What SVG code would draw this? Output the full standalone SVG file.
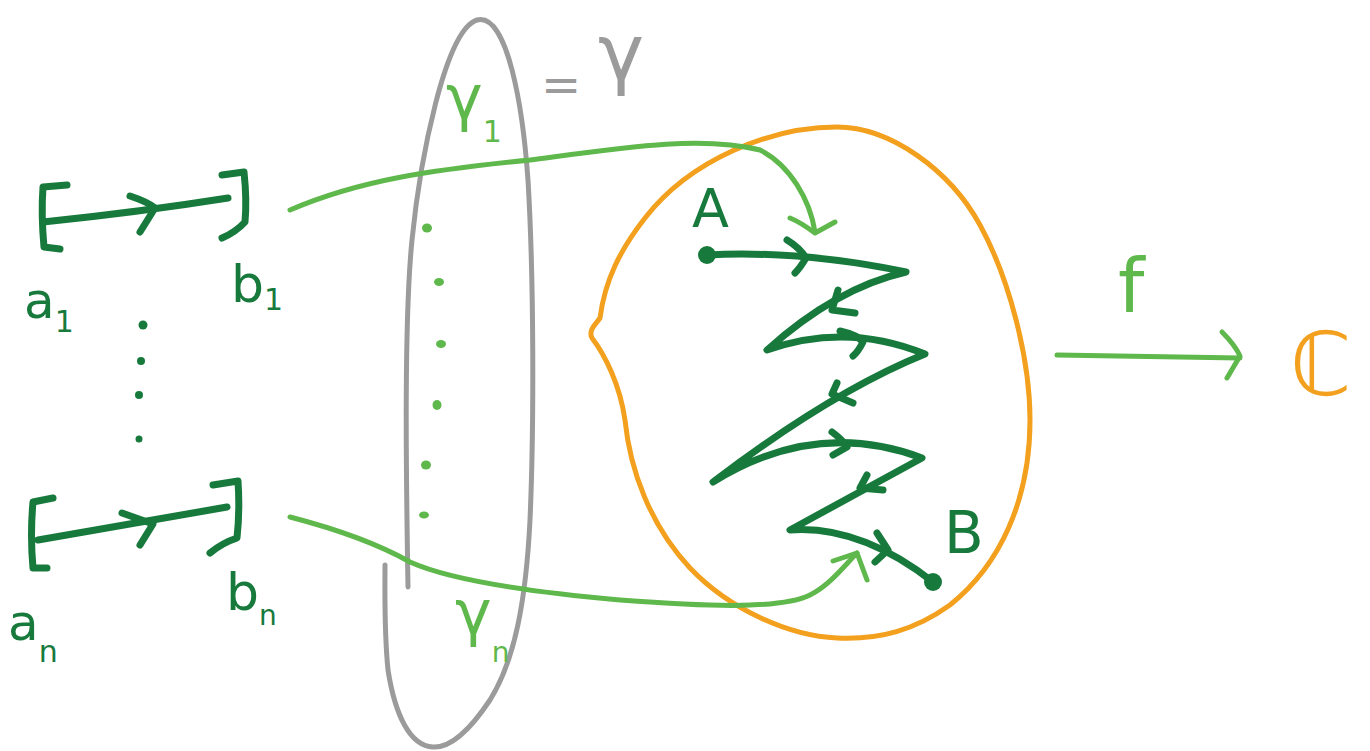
<svg xmlns="http://www.w3.org/2000/svg" width="1370" height="751" viewBox="0 0 1370 751">
<style>
.dk{fill:none;stroke:#177a3c;stroke-width:7;stroke-linecap:round;stroke-linejoin:round}
.lt{fill:none;stroke:#5fb84b;stroke-width:5;stroke-linecap:round;stroke-linejoin:round}
.gr{fill:none;stroke:#9b9b9b;stroke-width:5;stroke-linecap:round;stroke-linejoin:round}
.or{fill:none;stroke:#f2a01d;stroke-width:5;stroke-linecap:round;stroke-linejoin:round}
.t{font-family:"DejaVu Sans",sans-serif}
.tdk{fill:#177a3c}
.tlt{fill:#5fb84b}
.tgr{fill:#9b9b9b}
.tor{fill:#f2a01d}
.ddot{fill:#177a3c}
.ldot{fill:#5fb84b}
</style>
<rect width="1370" height="751" fill="#ffffff"/>

<g id="interval-1">
  <path class="dk" d="M67,185 L43,187 Q41,215 44,247 L60,249"/>
  <path class="dk" d="M222,175 L244,172 Q247,200 245,222 Q236,232 222,238"/>
  <path class="dk" d="M43,222 Q140,212 228,198"/>
  <path class="dk" d="M130,196 Q148,202 155,208 L140,232"/>
  <text class="t tdk" x="24" y="318" font-size="50">a<tspan font-size="30" dy="14">1</tspan></text>
  <text class="t tdk" x="231" y="302" font-size="52">b<tspan font-size="30" dy="8">1</tspan></text>
</g>

<g id="ellipsis-dots">
  <circle class="ddot" cx="143" cy="325" r="4.5"/>
  <circle class="ddot" cx="141" cy="361" r="4"/>
  <circle class="ddot" cx="139" cy="395" r="4"/>
  <circle class="ddot" cx="139" cy="439" r="3.5"/>
</g>

<g id="interval-n">
  <path class="dk" d="M53,498 L33,502 Q30,535 33,568 L47,568"/>
  <path class="dk" d="M213,485 L238,481 Q240,510 237,538 Q222,543 210,553"/>
  <path class="dk" d="M38,540 Q140,522 227,507"/>
  <path class="dk" d="M122,513 L153,524 L140,545"/>
  <text class="t tdk" x="8" y="640" font-size="50">a<tspan font-size="30" dy="22">n</tspan></text>
  <text class="t tdk" x="226" y="610" font-size="52">b<tspan font-size="28" dy="15">n</tspan></text>
</g>

<g id="gamma-family">
  <path class="gr" d="M408,587 C406,470 404,320 412,240 C420,160 445,30 477,20 C508,12 523,110 528,180 C534,280 534,430 530,520 C526,600 515,660 490,700 C470,730 450,748 433,747 C410,746 395,715 388,670 C384,630 385,590 385,565"/>
  <text class="t tgr" x="541" y="101" font-size="48">=</text>
  <text class="t tgr" x="598" y="80" font-size="78">γ</text>
  <text class="t tlt" x="446" y="119" font-size="62">γ<tspan font-size="30" dy="23">1</tspan></text>
  <ellipse class="ldot" cx="427" cy="228" rx="5" ry="4.5"/>
  <ellipse class="ldot" cx="439" cy="282" rx="5" ry="4"/>
  <ellipse class="ldot" cx="441" cy="344" rx="5" ry="4"/>
  <ellipse class="ldot" cx="437" cy="405" rx="4.5" ry="5"/>
  <ellipse class="ldot" cx="426" cy="465" rx="5" ry="4.5"/>
  <ellipse class="ldot" cx="424" cy="515" rx="5" ry="3.5"/>
  <text class="t tlt" x="455" y="634" font-size="62">γ<tspan font-size="28" dy="28">n</tspan></text>
</g>

<g id="domain">
  <path class="or" d="M837,127 C890,127 950,170 980,225 C1010,280 1030,360 1030,420 C1030,500 1000,565 950,605 C915,630 880,640 837,638 C790,636 730,610 690,568 C650,525 630,470 625,420 C620,385 605,355 592,338 C588,330 596,324 600,318 C605,280 620,250 645,218 C690,160 770,127 837,127 Z"/>
</g>

<g id="zigzag-path">
  <path class="dk" d="M707,255 Q800,250 906,272 Q836,288 767,350 Q846,322 925,354 Q831,392 713,482 Q816,418 922,458 L790,530 Q860,525 933,582"/>
  <path class="dk" d="M787,240 Q800,248 806,258 Q800,268 795,273"/>
  <path class="dk" d="M838,290 L832,310 L855,313"/>
  <path class="dk" d="M840,331 Q858,335 863,342 Q858,352 853,356"/>
  <path class="dk" d="M837,383 L832,394 L853,403"/>
  <path class="dk" d="M832,432 Q843,440 847,447 L833,455"/>
  <path class="dk" d="M867,475 L860,488 L883,490"/>
  <path class="dk" d="M877,533 L888,550 L875,562"/>
  <circle class="ddot" cx="707" cy="255" r="9"/>
  <circle class="ddot" cx="933" cy="582" r="9"/>
  <text class="t tdk" x="692" y="227" font-size="54">A</text>
  <text class="t tdk" x="944" y="553" font-size="58">B</text>
</g>

<g id="codomain">
  <text class="t tor" x="1290" y="395" font-size="88">ℂ</text>
</g>

<g id="connectors">
  <path class="lt" d="M290,210 C360,180 430,170 530,160 C620,148 700,135 760,150 C790,165 810,200 815,232"/>
  <path class="lt" d="M790,218 Q800,222 815,233 L835,222"/>
  <path class="lt" d="M290,517 C340,530 380,545 410,562 C450,580 530,592 620,600 C700,606 780,610 810,595 C830,585 845,565 857,553"/>
  <path class="lt" d="M833,561 L857,553 L867,580"/>
  <path class="lt" d="M1057,355 L1240,358"/>
  <path class="lt" d="M1222,332 Q1235,345 1240,356 L1227,378"/>
  <text class="t tlt" x="1118" y="312" font-size="75">f</text>
</g>
</svg>
